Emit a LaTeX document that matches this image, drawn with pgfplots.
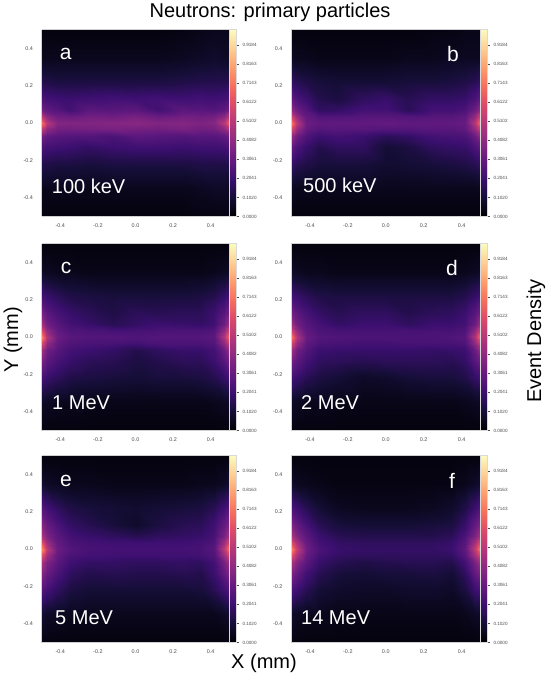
\documentclass[border=0pt]{standalone}
\usepackage{pgfplots}
\pgfplotsset{compat=1.18}
\usepackage{pgfplotstable}
\usepackage{fontspec}
\setmainfont{Liberation Sans}
\pgfplotsset{colormap={magma}{
rgb=(0.001462,0.000466,0.013866)
rgb=(0.078815,0.054184,0.211667)
rgb=(0.232077,0.059889,0.437695)
rgb=(0.390384,0.100379,0.501864)
rgb=(0.550287,0.161158,0.505719)
rgb=(0.716387,0.214982,0.475290)
rgb=(0.868793,0.287728,0.409303)
rgb=(0.967671,0.439703,0.359810)
rgb=(0.994738,0.624350,0.427397)
rgb=(0.995680,0.812706,0.572645)
rgb=(0.987053,0.991438,0.749504)
}}
\pgfplotstableread{
x y a b c d e f
-0.5 -0.5 0.02 0.02 0.02 0.02 0.02 0.02
-0.47 -0.5 0.02 0.02 0.02 0.02 0.02 0.02
-0.42 -0.5 0.02 0.02 0.02 0.02 0.02 0.02
-0.35 -0.5 0.02 0.02 0.02 0.02 0.02 0.02
-0.25 -0.5 0.02 0.02 0.02 0.02 0.02 0.02
-0.12 -0.5 0.02 0.02 0.02 0.02 0.02 0.02
0 -0.5 0.02 0.02 0.02 0.02 0.02 0.02
0.12 -0.5 0.02 0.02 0.02 0.02 0.02 0.02
0.25 -0.5 0.02 0.02 0.02 0.02 0.02 0.02
0.35 -0.5 0.03 0.02 0.02 0.02 0.02 0.02
0.42 -0.5 0.03 0.02 0.02 0.02 0.02 0.02
0.47 -0.5 0.03 0.02 0.02 0.02 0.02 0.02
0.5 -0.5 0.03 0.02 0.02 0.02 0.02 0.02
-0.5 -0.35 0.05 0.06 0.07 0.07 0.09 0.08
-0.47 -0.35 0.05 0.05 0.06 0.06 0.07 0.06
-0.42 -0.35 0.05 0.05 0.05 0.05 0.06 0.05
-0.35 -0.35 0.05 0.05 0.05 0.05 0.05 0.05
-0.25 -0.35 0.05 0.05 0.04 0.04 0.05 0.04
-0.12 -0.35 0.05 0.05 0.04 0.04 0.05 0.04
0 -0.35 0.05 0.05 0.04 0.04 0.05 0.04
0.12 -0.35 0.05 0.05 0.04 0.04 0.05 0.04
0.25 -0.35 0.05 0.05 0.04 0.04 0.05 0.04
0.35 -0.35 0.06 0.05 0.04 0.04 0.05 0.04
0.42 -0.35 0.07 0.05 0.05 0.05 0.05 0.05
0.47 -0.35 0.07 0.05 0.06 0.06 0.07 0.07
0.5 -0.35 0.06 0.06 0.07 0.07 0.09 0.08
-0.5 -0.22 0.14 0.18 0.22 0.22 0.26 0.24
-0.47 -0.22 0.13 0.15 0.19 0.19 0.22 0.20
-0.42 -0.22 0.12 0.13 0.16 0.15 0.17 0.15
-0.35 -0.22 0.12 0.11 0.13 0.12 0.12 0.10
-0.25 -0.22 0.11 0.11 0.12 0.10 0.10 0.08
-0.12 -0.22 0.12 0.11 0.11 0.07 0.10 0.07
0 -0.22 0.12 0.09 0.10 0.08 0.10 0.07
0.12 -0.22 0.12 0.10 0.11 0.10 0.10 0.08
0.25 -0.22 0.12 0.11 0.11 0.11 0.10 0.08
0.35 -0.22 0.13 0.12 0.12 0.11 0.11 0.07
0.42 -0.22 0.13 0.13 0.14 0.13 0.15 0.12
0.47 -0.22 0.13 0.15 0.18 0.18 0.21 0.20
0.5 -0.22 0.14 0.18 0.22 0.22 0.26 0.24
-0.5 -0.13 0.24 0.30 0.35 0.34 0.38 0.37
-0.47 -0.13 0.22 0.24 0.28 0.28 0.31 0.30
-0.42 -0.13 0.21 0.19 0.23 0.22 0.24 0.22
-0.35 -0.13 0.20 0.14 0.19 0.17 0.17 0.15
-0.25 -0.13 0.18 0.17 0.16 0.16 0.14 0.11
-0.12 -0.13 0.20 0.17 0.15 0.15 0.15 0.10
0 -0.13 0.21 0.10 0.12 0.16 0.14 0.11
0.12 -0.13 0.21 0.12 0.14 0.16 0.14 0.11
0.25 -0.13 0.20 0.17 0.16 0.16 0.15 0.12
0.35 -0.13 0.21 0.18 0.16 0.15 0.14 0.10
0.42 -0.13 0.21 0.19 0.20 0.18 0.20 0.17
0.47 -0.13 0.22 0.24 0.27 0.27 0.30 0.30
0.5 -0.13 0.24 0.30 0.35 0.34 0.38 0.37
-0.5 -0.07 0.33 0.42 0.45 0.45 0.47 0.48
-0.47 -0.07 0.29 0.32 0.33 0.33 0.36 0.37
-0.42 -0.07 0.27 0.25 0.27 0.26 0.28 0.28
-0.35 -0.07 0.26 0.20 0.22 0.20 0.21 0.19
-0.25 -0.07 0.26 0.22 0.20 0.19 0.18 0.15
-0.12 -0.07 0.24 0.20 0.18 0.19 0.18 0.13
0 -0.07 0.28 0.16 0.14 0.19 0.17 0.14
0.12 -0.07 0.27 0.18 0.17 0.19 0.17 0.15
0.25 -0.07 0.26 0.22 0.19 0.18 0.18 0.15
0.35 -0.07 0.27 0.23 0.19 0.19 0.17 0.14
0.42 -0.07 0.27 0.24 0.22 0.20 0.22 0.22
0.47 -0.07 0.29 0.32 0.32 0.32 0.35 0.36
0.5 -0.07 0.33 0.42 0.45 0.45 0.47 0.48
-0.5 -0.03 0.52 0.60 0.60 0.60 0.62 0.64
-0.47 -0.03 0.40 0.42 0.41 0.41 0.44 0.46
-0.42 -0.03 0.34 0.30 0.30 0.29 0.30 0.31
-0.35 -0.03 0.33 0.26 0.25 0.24 0.24 0.22
-0.25 -0.03 0.34 0.27 0.24 0.23 0.22 0.18
-0.12 -0.03 0.35 0.27 0.23 0.22 0.21 0.17
0 -0.03 0.34 0.26 0.22 0.22 0.21 0.17
0.12 -0.03 0.33 0.26 0.24 0.23 0.21 0.17
0.25 -0.03 0.35 0.27 0.24 0.23 0.21 0.17
0.35 -0.03 0.33 0.27 0.24 0.23 0.22 0.18
0.42 -0.03 0.34 0.29 0.26 0.25 0.25 0.27
0.47 -0.03 0.40 0.42 0.41 0.41 0.44 0.46
0.5 -0.03 0.52 0.60 0.60 0.60 0.62 0.64
-0.5 0 0.70 0.74 0.74 0.74 0.76 0.77
-0.47 0 0.50 0.50 0.48 0.48 0.51 0.53
-0.42 0 0.38 0.32 0.32 0.31 0.32 0.33
-0.35 0 0.37 0.29 0.27 0.26 0.26 0.24
-0.25 0 0.37 0.29 0.26 0.25 0.23 0.19
-0.12 0 0.38 0.29 0.26 0.24 0.22 0.18
0 0 0.39 0.30 0.25 0.24 0.22 0.18
0.12 0 0.37 0.29 0.26 0.24 0.22 0.18
0.25 0 0.38 0.29 0.26 0.24 0.22 0.18
0.35 0 0.36 0.29 0.26 0.25 0.23 0.20
0.42 0 0.38 0.31 0.28 0.27 0.27 0.29
0.47 0 0.50 0.50 0.48 0.48 0.51 0.53
0.5 0 0.70 0.74 0.74 0.74 0.76 0.77
-0.5 0.03 0.52 0.60 0.60 0.60 0.62 0.64
-0.47 0.03 0.40 0.42 0.41 0.41 0.44 0.46
-0.42 0.03 0.33 0.30 0.30 0.29 0.30 0.31
-0.35 0.03 0.32 0.26 0.25 0.24 0.24 0.22
-0.25 0.03 0.34 0.26 0.24 0.23 0.22 0.18
-0.12 0.03 0.33 0.27 0.23 0.23 0.21 0.17
0 0.03 0.35 0.27 0.23 0.23 0.21 0.17
0.12 0.03 0.32 0.26 0.24 0.23 0.21 0.17
0.25 0.03 0.34 0.27 0.24 0.23 0.21 0.17
0.35 0.03 0.33 0.27 0.24 0.23 0.22 0.19
0.42 0.03 0.34 0.29 0.26 0.25 0.25 0.27
0.47 0.03 0.40 0.42 0.41 0.41 0.44 0.46
0.5 0.03 0.52 0.60 0.60 0.60 0.62 0.64
-0.5 0.07 0.33 0.42 0.45 0.45 0.47 0.48
-0.47 0.07 0.29 0.32 0.33 0.33 0.36 0.37
-0.42 0.07 0.26 0.26 0.27 0.27 0.28 0.28
-0.35 0.07 0.22 0.17 0.22 0.22 0.22 0.20
-0.25 0.07 0.28 0.18 0.19 0.18 0.19 0.15
-0.12 0.07 0.27 0.22 0.15 0.20 0.17 0.14
0 0.07 0.28 0.22 0.18 0.20 0.15 0.14
0.12 0.07 0.22 0.16 0.20 0.17 0.17 0.14
0.25 0.07 0.28 0.22 0.19 0.20 0.18 0.14
0.35 0.07 0.27 0.22 0.18 0.20 0.19 0.16
0.42 0.07 0.26 0.24 0.21 0.22 0.23 0.24
0.47 0.07 0.29 0.32 0.32 0.32 0.35 0.36
0.5 0.07 0.33 0.42 0.45 0.45 0.47 0.48
-0.5 0.13 0.24 0.30 0.35 0.34 0.38 0.37
-0.47 0.13 0.22 0.24 0.28 0.28 0.31 0.30
-0.42 0.13 0.21 0.20 0.23 0.23 0.24 0.23
-0.35 0.13 0.20 0.14 0.19 0.18 0.18 0.15
-0.25 0.13 0.21 0.12 0.16 0.15 0.15 0.11
-0.12 0.13 0.22 0.17 0.13 0.17 0.11 0.10
0 0.13 0.21 0.19 0.16 0.17 0.08 0.10
0.12 0.13 0.22 0.15 0.15 0.14 0.12 0.10
0.25 0.13 0.21 0.18 0.16 0.16 0.15 0.11
0.35 0.13 0.22 0.18 0.16 0.17 0.16 0.12
0.42 0.13 0.21 0.19 0.20 0.20 0.21 0.19
0.47 0.13 0.22 0.24 0.27 0.27 0.30 0.30
0.5 0.13 0.24 0.30 0.35 0.34 0.38 0.38
-0.5 0.22 0.14 0.18 0.22 0.22 0.26 0.24
-0.47 0.22 0.13 0.15 0.19 0.19 0.22 0.20
-0.42 0.22 0.12 0.13 0.16 0.16 0.17 0.15
-0.35 0.22 0.12 0.11 0.13 0.13 0.13 0.10
-0.25 0.22 0.12 0.10 0.12 0.12 0.11 0.06
-0.12 0.22 0.12 0.10 0.11 0.12 0.10 0.05
0 0.22 0.12 0.10 0.11 0.12 0.09 0.05
0.12 0.22 0.12 0.11 0.11 0.12 0.10 0.05
0.25 0.22 0.13 0.11 0.11 0.12 0.11 0.06
0.35 0.22 0.14 0.12 0.12 0.12 0.12 0.08
0.42 0.22 0.14 0.13 0.14 0.14 0.15 0.13
0.47 0.22 0.14 0.15 0.18 0.18 0.21 0.20
0.5 0.22 0.15 0.18 0.22 0.22 0.26 0.26
-0.5 0.35 0.05 0.06 0.07 0.07 0.09 0.08
-0.47 0.35 0.05 0.05 0.06 0.06 0.07 0.06
-0.42 0.35 0.05 0.05 0.05 0.05 0.06 0.05
-0.35 0.35 0.05 0.04 0.05 0.05 0.05 0.04
-0.25 0.35 0.05 0.04 0.04 0.04 0.05 0.03
-0.12 0.35 0.05 0.04 0.04 0.04 0.04 0.03
0 0.35 0.05 0.04 0.04 0.04 0.04 0.03
0.12 0.35 0.05 0.05 0.04 0.04 0.04 0.03
0.25 0.35 0.06 0.05 0.04 0.04 0.04 0.03
0.35 0.35 0.07 0.06 0.04 0.04 0.05 0.03
0.42 0.35 0.08 0.06 0.05 0.05 0.05 0.05
0.47 0.35 0.07 0.06 0.06 0.06 0.07 0.07
0.5 0.35 0.07 0.06 0.07 0.07 0.09 0.09
-0.5 0.5 0.02 0.02 0.02 0.02 0.02 0.02
-0.47 0.5 0.02 0.02 0.02 0.02 0.02 0.02
-0.42 0.5 0.02 0.02 0.02 0.02 0.02 0.02
-0.35 0.5 0.02 0.02 0.02 0.02 0.02 0.02
-0.25 0.5 0.02 0.02 0.02 0.02 0.02 0.02
-0.12 0.5 0.02 0.02 0.02 0.02 0.02 0.02
0 0.5 0.02 0.02 0.02 0.02 0.02 0.02
0.12 0.5 0.02 0.02 0.02 0.02 0.02 0.02
0.25 0.5 0.03 0.03 0.02 0.02 0.02 0.02
0.35 0.5 0.04 0.03 0.02 0.02 0.02 0.02
0.42 0.5 0.05 0.04 0.02 0.02 0.02 0.02
0.47 0.5 0.05 0.04 0.02 0.02 0.02 0.02
0.5 0.5 0.05 0.04 0.02 0.02 0.02 0.02
}\data

\pgfplotsset{
  panel/.style={
    scale only axis, width=188pt, height=187pt,
    view={0}{90}, anchor=north west,
    xmin=-0.5, xmax=0.5, ymin=-0.5, ymax=0.5,
    colormap name=magma, point meta min=0, point meta max=1,
    axis line style={draw=black!18, line width=0.8pt},
    major tick length=0pt,
    xtick={-0.4,-0.2,0,0.2,0.4}, xticklabels={-0.4,-0.2,0.0,0.2,0.4},
    ytick={-0.4,-0.2,0,0.2,0.4}, yticklabels={-0.4,-0.2,0.0,0.2,0.4},
    ztick=\empty,
    tick label style={font=\fontsize{5.4}{6}\selectfont, text=black!70},
    xticklabel style={yshift=-4pt},
    yticklabel style={xshift=-5pt},
    colorbar,
    colorbar style={
      at={(1,1)}, anchor=north west, xshift=4.5pt,
      width=7pt,
      ytick={0,0.10204,0.20408,0.30612,0.40816,0.5102,0.61224,0.71429,0.81633,0.91837},
      yticklabels={0.0000,0.1020,0.2041,0.3061,0.4082,0.5102,0.6122,0.7143,0.8163,0.9184},
      yticklabel style={font=\fontsize{4.6}{5}\selectfont, text=black!70},
      tick align=outside, major tick length=2.5pt,
      tick style={black!70, line width=0.5pt},
      axis line style={draw=black!15, line width=0.8pt},
      ytick pos=right,
    },
  },
  heat/.style={surf, shader=interp, mesh/rows=13, mesh/cols=13},
}

\begin{document}
\begin{tikzpicture}
\fill[white] (0,0) rectangle (550pt,-680pt);
\useasboundingbox (0,0) rectangle (550pt,-680pt);

\begin{axis}[panel, at={(41.5pt,-29.5pt)}, width=188pt]
\addplot3[heat] table[x=x, y=y, z=a, meta=a] {\data};
\end{axis}
\begin{axis}[panel, at={(291pt,-29.5pt)}, width=189.5pt]
\addplot3[heat] table[x=x, y=y, z=b, meta=b] {\data};
\end{axis}
\begin{axis}[panel, at={(41.5pt,-243.5pt)}, width=188pt]
\addplot3[heat] table[x=x, y=y, z=c, meta=c] {\data};
\end{axis}
\begin{axis}[panel, at={(291pt,-243.5pt)}, width=189.5pt]
\addplot3[heat] table[x=x, y=y, z=d, meta=d] {\data};
\end{axis}
\begin{axis}[panel, at={(41.5pt,-455.5pt)}, width=188pt]
\addplot3[heat] table[x=x, y=y, z=e, meta=e] {\data};
\end{axis}
\begin{axis}[panel, at={(291pt,-455.5pt)}, width=189.5pt]
\addplot3[heat] table[x=x, y=y, z=f, meta=f] {\data};
\end{axis}

\tikzset{plab/.style={text=white, font=\fontsize{21}{24}\selectfont, inner sep=0pt},
         elab/.style={text=white, font=\fontsize{20}{24}\selectfont, anchor=base west, inner sep=0pt}}
\node[plab] at (65.7pt,-54pt) {a};
\node[plab] at (453pt,-54pt) {b};
\node[plab] at (66pt,-268pt) {c};
\node[plab] at (452pt,-268pt) {d};
\node[plab] at (66pt,-481pt) {e};
\node[plab] at (452pt,-481pt) {f};

\node[elab] at (51.7pt,-193pt) {100 keV};
\node[elab] at (303pt,-192pt) {500 keV};
\node[elab] at (52pt,-409pt) {1 MeV};
\node[elab] at (301pt,-409pt) {2 MeV};
\node[elab] at (55pt,-624pt) {5 MeV};
\node[elab] at (301pt,-624pt) {14 MeV};

\node[font=\fontsize{20}{24}\selectfont] at (270pt,-12.5pt) {Neutrons: primary particles};
\node[font=\fontsize{20}{24}\selectfont, rotate=90] at (13pt,-340pt) {Y (mm)};
\node[font=\fontsize{20}{24}\selectfont, rotate=90] at (536pt,-341pt) {Event Density};
\node[font=\fontsize{20}{24}\selectfont] at (264pt,-663pt) {X (mm)};
\end{tikzpicture}
\end{document}
